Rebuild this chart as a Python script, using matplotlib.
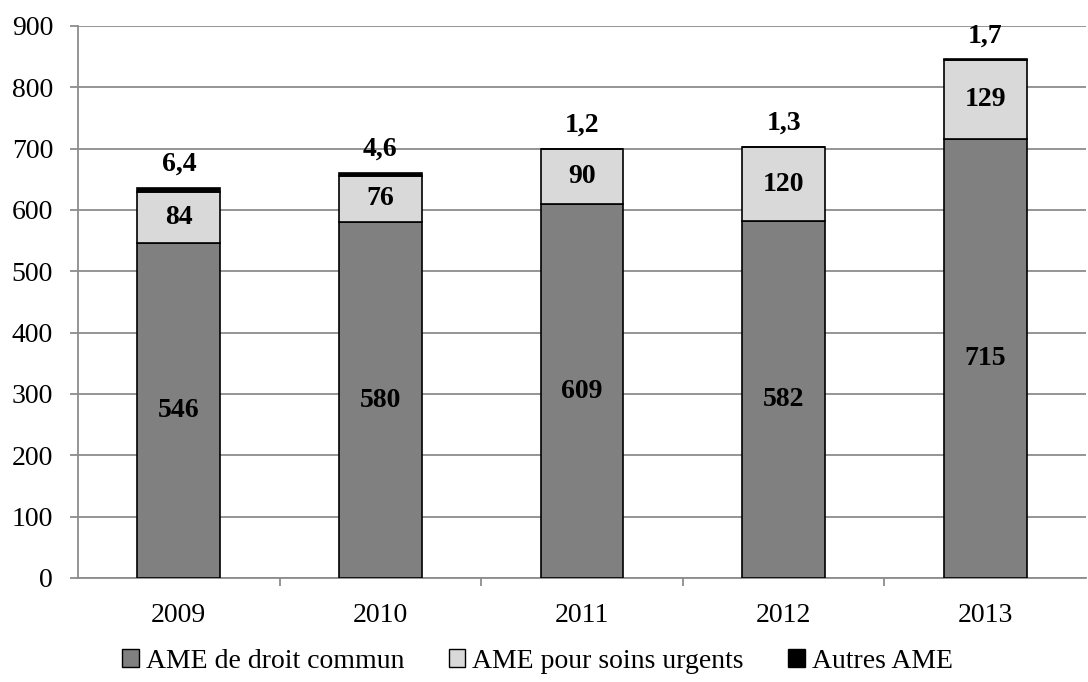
import matplotlib.pyplot as plt
from matplotlib.patches import Patch
import numpy as np

years = ["2009", "2010", "2011", "2012", "2013"]
droit_commun = [546, 580, 609, 582, 715]
soins_urgents = [84, 76, 90, 120, 129]
autres = [6.4, 4.6, 1.2, 1.3, 1.7]

series_names = ["AME de droit commun", "AME pour soins urgents", "Autres AME"]
colors = ["#808080", "#d9d9d9", "#000000"]

plt.rcParams["font.family"] = ["Liberation Serif", "DejaVu Serif"]
grid_color = "#8c8c8c"
fs = 20

fig = plt.figure(figsize=(10.88, 6.82), dpi=100)
ax = fig.add_axes([0.0717, 0.1525, 0.9265, 0.8094])

x = np.arange(len(years))
width = 0.41
bottom2 = np.array(droit_commun)
bottom3 = bottom2 + np.array(soins_urgents)

ax.bar(x, droit_commun, width, color=colors[0], edgecolor="black", linewidth=1.2, zorder=3)
ax.bar(x, soins_urgents, width, bottom=bottom2, color=colors[1], edgecolor="black",
       linewidth=1.2, zorder=3)
ax.bar(x, autres, width, bottom=bottom3, color=colors[2], edgecolor="black",
       linewidth=1.2, zorder=3)

def fmt(v):
    if float(v).is_integer():
        return str(int(v))
    return ("%.1f" % v).replace(".", ",")

# values inside segments and above the bars
for i in range(len(years)):
    ax.text(x[i], droit_commun[i] / 2, fmt(droit_commun[i]), ha="center", va="center",
            fontsize=fs, fontweight="bold", zorder=4)
    ax.text(x[i], bottom2[i] + soins_urgents[i] / 2, fmt(soins_urgents[i]), ha="center",
            va="center", fontsize=fs, fontweight="bold", zorder=4)
    ax.annotate(fmt(autres[i]), (x[i], bottom3[i] + autres[i]), xytext=(0, 17),
                textcoords="offset points", ha="center", va="center",
                fontsize=fs, fontweight="bold", zorder=4)

ax.set_xlim(-0.5, len(years) - 0.5)
ax.set_ylim(0, 900)
ax.set_yticks(range(0, 901, 100))
ax.yaxis.grid(True, color=grid_color, linewidth=1.3, zorder=0)
ax.set_axisbelow(True)

ax.set_xticks(x)
ax.set_xticklabels(years)
ax.set_xticks(np.arange(0.5, len(years) - 0.5, 1), minor=True)
ax.tick_params(axis="x", which="major", length=0, pad=18, labelsize=fs)
ax.tick_params(axis="x", which="minor", length=6, width=1.3, color=grid_color)
ax.tick_params(axis="y", length=6, width=1.3, color=grid_color, pad=12, labelsize=fs)

for side in ["top", "right"]:
    ax.spines[side].set_visible(False)
for side in ["left", "bottom"]:
    ax.spines[side].set_color(grid_color)
    ax.spines[side].set_linewidth(1.3)

handles = [Patch(facecolor=c, edgecolor="black", linewidth=1.0) for c in colors]
fig.legend(handles, series_names, loc="center", bbox_to_anchor=(0.494, 0.03), ncol=3,
           frameon=False, fontsize=fs, handlelength=0.6, handleheight=0.6,
           handletextpad=0.25, columnspacing=1.6)

fig.savefig("out.png", dpi=100)
